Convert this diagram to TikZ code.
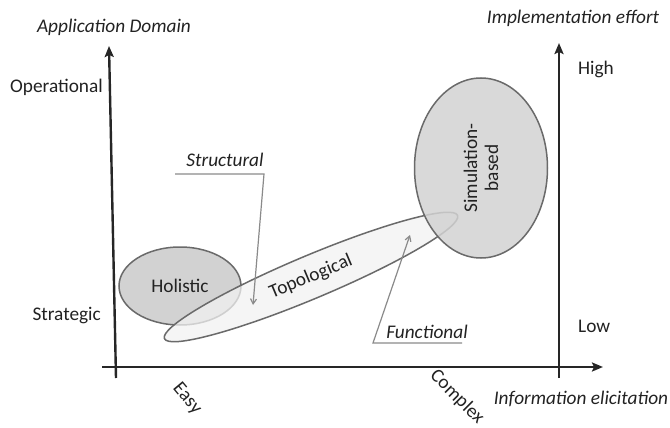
\documentclass[tikz,border=0pt]{standalone}
\usepackage{fontspec}
\setmainfont{Carlito}
\usetikzlibrary{shapes.geometric,arrows.meta}
\definecolor{blobdark}{HTML}{D2D2D2}
\definecolor{bloblight}{HTML}{F1F1F1}
\definecolor{blobedge}{HTML}{6A6A6A}
\definecolor{calloutgray}{HTML}{8A8A8A}
\definecolor{ink}{HTML}{222222}
\begin{document}
\begin{tikzpicture}[x=1pt,y=-1pt,
  every node/.style={font=\fontsize{19.3}{21}\selectfont, inner sep=0pt, text=ink},
  lbl/.style={font=\fontsize{19.3}{21}\selectfont\itshape},
  axis/.style={line width=2.4pt, draw=black!85, -{Stealth[length=11pt,width=9pt,inset=2pt]}},
  blob/.style={ellipse, draw=blobedge, line width=1.5pt},
  callout/.style={draw=calloutgray, line width=1.2pt, -{Straight Barb[length=5pt,width=6pt]}}
]
\useasboundingbox (0,0) rectangle (670,428);

% axes
\coordinate (yb) at (116,378);
\coordinate (yt) at (109,46);
\coordinate (xl) at (102,367);
\coordinate (xr) at (603,367);
\coordinate (rb) at (559,378);
\coordinate (rt) at (559,43);
\draw[axis] (yb) -- (yt);
\draw[axis] (xl) -- (xr);
\draw[axis] (rb) -- (rt);

% axis titles and scale labels
\node[lbl] (appdom) at (114,27) {Application Domain};
\node[lbl] (impl) at (573,18) {Implementation effort};
\node[lbl] (info) at (581,399) {Information elicitation};
\node[anchor=east] (oper) at (103,87) {Operational};
\node[anchor=east] (strat) at (101,316) {Strategic};
\node[anchor=west] (high) at (578,69) {High};
\node[anchor=west] (low) at (578,326) {Low};
\node[rotate=-50] (easy) at (187,399) {Easy};
\node[rotate=-45] (complex) at (457,397) {Complex};

% approaches
\node[blob, fill=blobdark, minimum width=122pt, minimum height=78pt] (holistic) at (180,286) {Holistic};
\node[blob, fill=bloblight, fill opacity=0.75, text opacity=1, minimum width=318pt, minimum height=43pt, rotate=22.8] (topo) at (311,277) {Topological};
\node[blob, fill=blobdark, fill opacity=0.85, text opacity=1, minimum width=180pt, minimum height=133pt, rotate=90, align=center] (sim) at (481,168) {Simulation-\\based};

% callouts
\node[lbl] (struct) at (225,160) {Structural};
\coordinate (s1) at (175,174);
\coordinate (s2) at (264,174);
\coordinate (stip) at (253,305);
\draw[callout] (s1) -- (s2) -- (stip);

\node[lbl] (func) at (427,332) {Functional};
\coordinate (f1) at (462,343);
\coordinate (f2) at (373,343);
\coordinate (ftip) at (410,235);
\draw[callout] (f1) -- (f2) -- (ftip);
\end{tikzpicture}
\end{document}
